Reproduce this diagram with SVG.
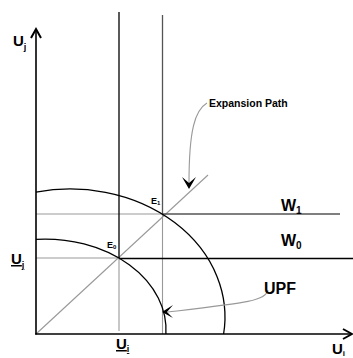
<svg xmlns="http://www.w3.org/2000/svg" width="353" height="358" viewBox="0 0 353 358">
<style>
.t{font-family:"Liberation Sans",Arial,sans-serif;font-weight:bold;fill:#000}
.blk{stroke:#000;stroke-width:1.3;fill:none}
.dk{stroke:#555;stroke-width:1.3;fill:none}
.gr{stroke:#999;stroke-width:1.1;fill:none}
.ar{fill:#000;stroke:none}
</style>
<rect width="353" height="358" fill="#fff"/>
<g id="connectors">
<line class="gr" x1="36" y1="214" x2="162" y2="214"/>
<line class="gr" x1="36" y1="258" x2="119" y2="258"/>
<line class="gr" x1="119" y1="258" x2="119" y2="331"/>
<line class="gr" x1="162.5" y1="214" x2="162.5" y2="334"/>
<line class="gr" x1="36" y1="334" x2="208" y2="175"/>
<line class="blk" x1="119" y1="12" x2="119" y2="258"/>
<line class="dk" x1="162.5" y1="15" x2="162.5" y2="214"/>
<line class="dk" x1="162" y1="214" x2="340" y2="214"/>
<line class="blk" x1="119" y1="258.5" x2="353" y2="258.5"/>
<path class="blk" d="M36,192.1 A155,128 0 0 1 223.6,334"/>
<path class="blk" d="M36,239.3 A121,91 0 0 1 165.9,334"/>
<path class="gr" d="M207,103 C195,110 189,130 189,183"/>
<polygon class="ar" points="182,177 189,189 196,177 189,183"/>
<path class="gr" d="M268,290 C266,301 245,303 168,312"/>
<polygon class="ar" points="173,305 162,312 173,318 167,312"/>
<line stroke="#000" stroke-width="1.6" x1="36" y1="29" x2="36" y2="334.5"/>
<line stroke="#000" stroke-width="1.6" x1="35.2" y1="334" x2="351" y2="334"/>
<polyline fill="none" stroke="#000" stroke-width="2" points="31,38 36,29 41,38"/>
<polyline fill="none" stroke="#000" stroke-width="2" points="343,329 352,334 343,339"/>
</g>
<g id="axis-y-label"><text class="t" x="13" y="46" font-size="15">U<tspan font-size="9" dy="4">j</tspan></text></g>
<g id="axis-x-label"><text class="t" x="332" y="354" font-size="15">U<tspan font-size="8" dy="2">i</tspan></text></g>
<g id="uj-bar"><text class="t" x="11" y="264" font-size="15" text-decoration="underline">U<tspan font-size="9" dy="4">j</tspan></text></g>
<g id="ui-bar"><text class="t" x="116" y="349" font-size="15" text-decoration="underline">U<tspan font-size="9" dy="3">i</tspan></text></g>
<g id="e1"><text class="t" x="151" y="204" font-size="9">E<tspan font-size="6" dy="1">1</tspan></text></g>
<g id="e0"><text class="t" x="107" y="248" font-size="9">E<tspan font-size="6" dy="1">0</tspan></text></g>
<g id="w1"><text class="t" x="281" y="211" font-size="16">W<tspan font-size="10" dy="3">1</tspan></text></g>
<g id="w0"><text class="t" x="281" y="246" font-size="16">W<tspan font-size="10" dy="3">0</tspan></text></g>
<g id="upf"><text class="t" x="264" y="294" font-size="16">UPF</text></g>
<g id="expansion"><text class="t" x="209" y="107" font-size="10.5">Expansion Path</text></g>
</svg>
